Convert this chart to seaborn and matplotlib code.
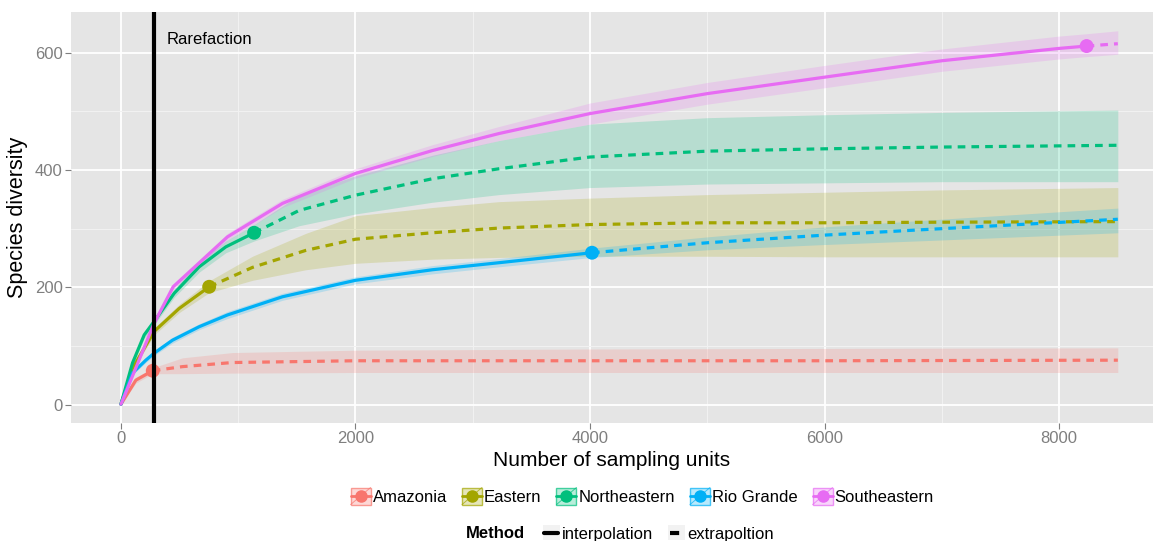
import matplotlib
matplotlib.use("Agg")
import matplotlib.pyplot as plt
from matplotlib.lines import Line2D
from matplotlib.patches import Rectangle
from matplotlib.legend_handler import HandlerBase
from matplotlib.colors import to_rgb
import pandas as pd
import seaborn as sns

# sites and their colours (ggplot default hue palette)
sites = ["Amazonia", "Eastern", "Northeastern", "Rio Grande", "Southeastern"]
colors = ["#F8766D", "#A3A500", "#00BF7D", "#00B0F6", "#E76BF3"]

# reference sample size of every site (end of interpolation)
ref_n = [272, 753, 1136, 4017, 8234]

# sampling units, estimated diversity and 95% bands
amaz_m = [1, 128, 272, 525, 952, 2000, 4000, 6000, 8500]
amaz_qd = [1, 42, 58, 65, 72, 75, 75, 75, 76]
amaz_lo = [1, 37, 53, 53, 54, 55, 55, 55, 55]
amaz_hi = [1, 47, 63, 80, 89, 93, 95, 96, 97]

east_m = [1, 99, 284, 497, 753, 1122, 1577, 2000, 2656, 3224, 4000, 5000, 6000, 7000, 8500]
east_qd = [1, 62, 125, 164, 201, 234, 263, 282, 293, 301, 307, 310, 310, 311, 312]
east_lo = [1, 58, 119, 157, 191, 212, 230, 241, 248, 251, 253, 253, 252, 252, 252]
east_hi = [1, 66, 131, 171, 211, 253, 292, 322, 336, 346, 352, 358, 362, 366, 370]

ne_m = [1, 99, 199, 284, 455, 668, 895, 1136, 1520, 2000, 2656, 3224, 4000, 5000, 6000, 7000, 8500]
ne_qd = [1, 71, 119, 142, 190, 235, 269, 293, 331, 357, 385, 402, 422, 432, 436, 439, 442]
ne_lo = [1, 66, 113, 136, 183, 226, 259, 279, 305, 325, 345, 358, 370, 376, 378, 380, 380]
ne_hi = [1, 76, 125, 148, 197, 244, 279, 307, 357, 390, 425, 450, 478, 489, 494, 498, 502]

rio_m = [1, 99, 213, 284, 440, 668, 909, 1378, 2000, 2656, 3224, 4017, 5000, 6000, 6906, 8500]
rio_qd = [1, 54, 76, 88, 110, 133, 153, 184, 212, 230, 242, 259, 276, 289, 299, 316]
rio_lo = [1, 51, 72, 84, 105, 128, 147, 178, 206, 223, 235, 251, 264, 273, 280, 293]
rio_hi = [1, 57, 80, 92, 115, 138, 159, 190, 218, 237, 249, 267, 286, 303, 315, 335]

se_m = [1, 284, 446, 909, 1378, 2000, 2656, 3224, 4000, 5000, 6000, 7000, 8000, 8234, 8500]
se_qd = [1, 139, 201, 286, 343, 394, 433, 462, 496, 530, 558, 586, 607, 611, 615]
se_lo = [1, 135, 196, 280, 336, 386, 423, 450, 478, 512, 540, 568, 589, 593, 597]
se_hi = [1, 143, 206, 292, 350, 402, 443, 474, 514, 549, 578, 606, 628, 632, 637]

curves = {
    "Amazonia": (amaz_m, amaz_qd, amaz_lo, amaz_hi),
    "Eastern": (east_m, east_qd, east_lo, east_hi),
    "Northeastern": (ne_m, ne_qd, ne_lo, ne_hi),
    "Rio Grande": (rio_m, rio_qd, rio_lo, rio_hi),
    "Southeastern": (se_m, se_qd, se_lo, se_hi),
}

rows = []
for site, n in zip(sites, ref_n):
    m, qd, lo, hi = curves[site]
    for mi, qi, l, h in zip(m, qd, lo, hi):
        # the reference point belongs to both pieces so the lines join
        if mi <= n:
            rows.append((site, "interpolation", mi, qi, l, h))
        if mi >= n:
            rows.append((site, "extrapoltion", mi, qi, l, h))
df = pd.DataFrame(rows, columns=["site", "method", "m", "qD", "lo", "hi"])


class SiteKey(HandlerBase):
    # ggplot-like key: ribbon square, diagonal, line and point
    def create_artists(self, legend, orig_handle, xdescent, ydescent, width, height, fontsize, trans):
        c = to_rgb(orig_handle.get_color())
        x0, y0 = -xdescent, -ydescent
        rect = Rectangle((x0, y0), width, height, facecolor=c + (0.28,),
                         edgecolor=c + (0.7,), lw=1, transform=trans)
        diag = Line2D([x0, x0 + width], [y0, y0 + height], color=c, lw=0.7, alpha=0.7, transform=trans)
        hline = Line2D([x0, x0 + width], [y0 + height / 2] * 2, color=c, lw=2, transform=trans)
        dot = Line2D([x0 + width / 2], [y0 + height / 2], marker="o", ms=8, color=c,
                     lw=0, transform=trans)
        return [rect, diag, hline, dot]


class MethodKey(HandlerBase):
    def create_artists(self, legend, orig_handle, xdescent, ydescent, width, height, fontsize, trans):
        x0, y0 = -xdescent, -ydescent
        rect = Rectangle((x0, y0), width, height, facecolor="#F2F2F2", lw=0, transform=trans)
        ln = Line2D([x0 + 1, x0 + width - 1], [y0 + height / 2] * 2, color="black", lw=3,
                    linestyle=orig_handle.get_linestyle(), transform=trans)
        if orig_handle.get_linestyle() != "-":
            ln.set_dashes((2.2, 1.6))
        return [rect, ln]


sns.set_style("darkgrid", {"axes.facecolor": "#E5E5E5", "grid.color": "white"})
plt.rcParams["font.family"] = ["Liberation Sans", "DejaVu Sans"]
plt.rcParams["text.color"] = "black"

fig = plt.figure(figsize=(11.53, 5.41), dpi=100)
ax = fig.add_axes([71 / 1153, 1 - 423 / 541, 1082 / 1153, 411 / 541])

pal = dict(zip(sites, colors))
sns.lineplot(data=df, x="m", y="qD", hue="site", style="method", palette=pal,
             dashes={"interpolation": "", "extrapoltion": (2.4, 1.9)},
             estimator=None, sort=True, linewidth=2.3, legend=False, ax=ax)

for site in sites:
    d = df[df.site == site].drop_duplicates("m")
    ax.fill_between(d.m, d.lo, d.hi, color=pal[site], alpha=0.2, linewidth=0)

refs = pd.DataFrame({"site": sites, "m": ref_n,
                     "qD": [df[(df.site == s) & (df.m == n)].qD.iloc[0] for s, n in zip(sites, ref_n)]})
sns.scatterplot(data=refs, x="m", y="qD", hue="site", palette=pal, s=100,
                edgecolor="none", legend=False, ax=ax, zorder=5)

ax.axvline(281, color="black", lw=3, zorder=6)
ax.text(390, 622, "Rarefaction", fontsize=12, va="center", ha="left", color="black")

ax.set_xlim(-425, 8800)
ax.set_ylim(-31, 669)
ax.set_xticks([0, 2000, 4000, 6000, 8000])
ax.set_yticks([0, 200, 400, 600])
ax.set_xticks([1000, 3000, 5000, 7000], minor=True)
ax.set_yticks([100, 300, 500], minor=True)
ax.grid(which="major", color="white", lw=1.3)
ax.grid(which="minor", color="#F2F2F2", lw=0.7)
ax.tick_params(axis="both", which="major", labelsize=12, labelcolor="#7F7F7F",
               color="#7F7F7F", length=4, width=0.8, direction="out",
               bottom=True, left=True, pad=2)
ax.tick_params(which="minor", length=0)
for sp in ax.spines.values():
    sp.set_visible(False)
ax.set_xlabel("Number of sampling units", fontsize=15, labelpad=3, color="black")
ax.set_ylabel("Species diversity", fontsize=15.5, labelpad=5, color="black")

# site legend
site_handles = [Line2D([], [], color=c) for c in colors]
fig.legend(site_handles, sites, loc="center", bbox_to_anchor=(0.557, 0.083),
           ncol=5, frameon=False, fontsize=12, handlelength=1.2,
           handleheight=1.2, handletextpad=0.12, columnspacing=0.9,
           handler_map={Line2D: SiteKey()})

# method legend
fig.text(466 / 1153, 0.014, "Method", fontsize=12, fontweight="bold", va="center")
meth_handles = [Line2D([], [], color="black", linestyle="-"),
                Line2D([], [], color="black", linestyle="--")]
fig.legend(meth_handles, ["interpolation", "extrapoltion"], loc="center left",
           bbox_to_anchor=(528 / 1153, 0.014), ncol=2, frameon=False, fontsize=12,
           handlelength=1.0, handleheight=1.0, handletextpad=0.15, columnspacing=0.9,
           handler_map={Line2D: MethodKey()})

fig.savefig("out.png", dpi=100)
